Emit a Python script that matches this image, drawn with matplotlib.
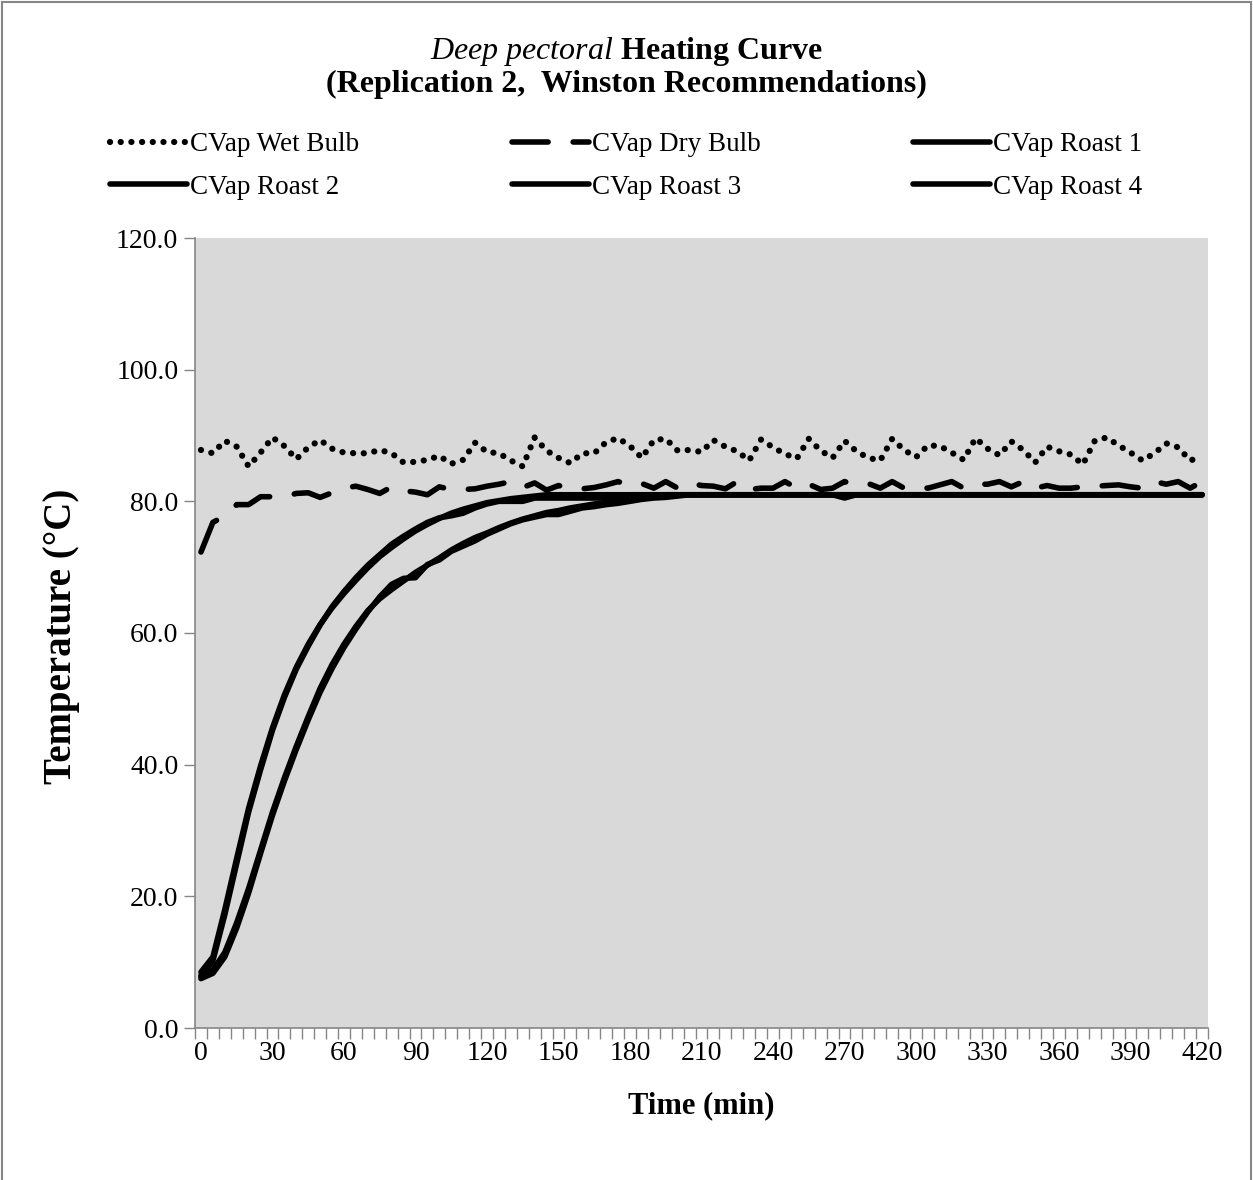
import numpy as np
import matplotlib.pyplot as plt
from matplotlib.patches import Rectangle

plt.rcParams['font.family'] = ['Liberation Serif', 'DejaVu Serif']
plt.rcParams['mathtext.fontset'] = 'custom'
plt.rcParams['mathtext.rm'] = 'Liberation Serif'
plt.rcParams['mathtext.it'] = 'Liberation Serif:italic'
plt.rcParams['mathtext.bf'] = 'Liberation Serif:bold'

# time in minutes, one reading every 5 min
minutes = np.arange(0, 425, 5)

wet_bulb = [87.8, 87.3, 89.2, 88.3, 85.3, 87.4, 89.7, 88.4, 86.4, 88.2,
            89.3, 88.0, 87.4, 87.3, 87.3, 87.8, 87.3, 85.9, 86.0, 86.3,
            86.9, 85.7, 86.3, 88.9, 87.5, 87.3, 86.2, 85.3, 89.7, 87.7,
            86.6, 85.8, 87.3, 87.3, 89.0, 89.6, 88.4, 86.6, 89.3, 89.5,
            87.7, 87.8, 87.5, 89.3, 88.3, 87.6, 86.2, 89.4, 88.2, 87.2,
            86.5, 89.5, 87.7, 86.6, 89.2, 87.6, 86.6, 86.2, 89.5, 87.8,
            86.7, 88.5, 88.4, 87.4, 86.3, 89.6, 88.0, 87.0, 89.1, 87.8,
            85.9, 88.3, 87.6, 87.1, 85.6, 89.2, 89.7, 88.5, 87.4, 86.2,
            87.3, 88.8, 88.2, 86.2, 86.8]

dry_bulb = [72.3, 76.8, 77.8, 79.5, 79.5, 80.7, 80.7, 80.7, 81.2, 81.3,
            80.6, 81.3, 82.0, 82.3, 81.8, 81.2, 82.2, 81.6, 81.4, 81.0,
            82.2, 81.8, 81.8, 81.9, 82.3, 82.6, 83.0, 82.1, 82.8, 81.7,
            82.4, 81.9, 81.9, 82.1, 82.5, 83.0, 82.4, 82.7, 82.0, 83.0,
            82.0, 82.8, 82.4, 82.3, 81.9, 83.0, 81.8, 82.0, 82.0, 83.0,
            82.0, 82.6, 81.8, 82.0, 83.0, 82.5, 82.7, 82.0, 83.0, 82.0,
            82.2, 82.0, 82.5, 83.0, 82.0, 82.6, 82.6, 83.0, 82.2, 83.0,
            82.0, 82.4, 82.0, 82.0, 82.2, 82.3, 82.4, 82.5, 82.2, 82.0,
            83.0, 82.6, 83.0, 82.0, 83.0]

roast_1 = [8.5, 10.8, 18.0, 25.8, 33.4, 39.8, 45.6, 50.6, 54.8, 58.3,
           61.3, 63.8, 66.0, 68.0, 69.9, 71.6, 73.0, 74.3, 75.5, 76.5,
           77.4, 78.2, 78.8, 79.3, 79.8, 80.1, 80.4, 80.6, 80.8, 81.0,
           81.0, 81.0, 81.0, 81.0, 81.0, 81.0, 81.0, 81.0, 81.0, 81.0,
           81.0, 81.0, 81.0, 81.0, 81.0, 81.0, 81.0, 81.0, 81.0, 81.0,
           81.0, 81.0, 81.0, 81.0, 81.0, 81.0, 81.0, 81.0, 81.0, 81.0,
           81.0, 81.0, 81.0, 81.0, 81.0, 81.0, 81.0, 81.0, 81.0, 81.0,
           81.0, 81.0, 81.0, 81.0, 81.0, 81.0, 81.0, 81.0, 81.0, 81.0,
           81.0, 81.0, 81.0, 81.0, 81.0]

roast_2 = [7.8, 10.2, 17.2, 25.0, 32.8, 39.2, 45.2, 50.2, 54.5, 58.0,
           61.2, 64.0, 66.3, 68.4, 70.3, 71.9, 73.5, 74.7, 75.8, 76.8,
           77.5, 77.8, 78.2, 79.0, 79.6, 80.0, 80.0, 80.0, 80.5, 80.5,
           80.5, 80.5, 80.5, 80.5, 80.5, 80.5, 81.0, 81.0, 81.0, 81.0,
           81.0, 81.0, 81.0, 81.0, 81.0, 81.0, 81.0, 81.0, 81.0, 81.0,
           81.0, 81.0, 81.0, 81.0, 81.0, 81.0, 81.0, 81.0, 81.0, 81.0,
           81.0, 81.0, 81.0, 81.0, 81.0, 81.0, 81.0, 81.0, 81.0, 81.0,
           81.0, 81.0, 81.0, 81.0, 81.0, 81.0, 81.0, 81.0, 81.0, 81.0,
           81.0, 81.0, 81.0, 81.0, 81.0]

roast_3 = [7.5, 8.3, 10.8, 15.2, 20.5, 26.5, 32.3, 37.5, 42.3, 46.8,
           51.0, 54.6, 57.8, 60.6, 63.2, 65.5, 67.4, 68.3, 68.4, 70.4,
           71.1, 72.4, 73.2, 74.0, 75.0, 75.8, 76.6, 77.2, 77.6, 78.0,
           78.0, 78.5, 79.0, 79.2, 79.5, 79.7, 80.0, 80.3, 80.5, 80.6,
           80.8, 81.0, 81.0, 81.0, 81.0, 81.0, 81.0, 81.0, 81.0, 81.0,
           81.0, 81.0, 81.0, 81.0, 80.5, 81.0, 81.0, 81.0, 81.0, 81.0,
           81.0, 81.0, 81.0, 81.0, 81.0, 81.0, 81.0, 81.0, 81.0, 81.0,
           81.0, 81.0, 81.0, 81.0, 81.0, 81.0, 81.0, 81.0, 81.0, 81.0,
           81.0, 81.0, 81.0, 81.0, 81.0]

roast_4 = [8.0, 8.8, 11.5, 16.0, 21.2, 27.0, 32.8, 38.0, 42.8, 47.3,
           51.6, 55.2, 58.3, 61.0, 63.4, 65.2, 66.6, 67.9, 69.2, 70.3,
           71.4, 72.6, 73.6, 74.5, 75.2, 76.0, 76.7, 77.3, 77.8, 78.3,
           78.6, 79.0, 79.3, 79.6, 79.8, 80.0, 80.2, 80.4, 80.7, 81.0,
           81.0, 81.0, 81.0, 81.0, 81.0, 81.0, 81.0, 81.0, 81.0, 81.0,
           81.0, 81.0, 81.0, 81.0, 81.0, 81.0, 81.0, 81.0, 81.0, 81.0,
           81.0, 81.0, 81.0, 81.0, 81.0, 81.0, 81.0, 81.0, 81.0, 81.0,
           81.0, 81.0, 81.0, 81.0, 81.0, 81.0, 81.0, 81.0, 81.0, 81.0,
           81.0, 81.0, 81.0, 81.0, 81.0]

W, H = 1253, 1180
fig = plt.figure(figsize=(W / 100, H / 100), dpi=100)
ax = fig.add_axes([195 / W, 1 - 1028 / H, (1208 - 195) / W, (1028 - 238) / H])
ax.set_facecolor('#D9D9D9')

lw = 4
l_wet, = ax.plot(minutes, wet_bulb, color='black', lw=4.5,
                 linestyle=(0, (0.01, 1.7)), dash_capstyle='round')
l_dry, = ax.plot(minutes, dry_bulb, color='black', lw=lw,
                 linestyle=(0, (6.5, 4.5)), dash_capstyle='round')
roasts = []
for vals in [roast_1, roast_2, roast_3, roast_4]:
    ln, = ax.plot(minutes, vals, color='black', lw=lw,
                  solid_capstyle='round', solid_joinstyle='round')
    roasts.append(ln)

ax.set_xlim(-2.5, 422.5)
ax.set_ylim(0, 120)
for s in ['top', 'right']:
    ax.spines[s].set_visible(False)
for s in ['left', 'bottom']:
    ax.spines[s].set_color('#868686')
    ax.spines[s].set_linewidth(1.2)

ax.set_xticks(np.arange(0, 421, 30))
ax.set_xticks(np.arange(-2.5, 423, 5), minor=True)
ax.tick_params(axis='x', which='major', length=0, pad=9, labelsize=20)
ax.tick_params(axis='x', which='minor', length=8, color='#868686', width=1)
yt = np.arange(0, 121, 20)
ax.set_yticks(yt)
ax.set_yticklabels([f'{v:.1f}' for v in yt])
ax.tick_params(axis='y', length=8, color='#868686', width=1, pad=4, labelsize=20)

fig.text(0.5, 1 - 52 / H, r'$\it{Deep\ pectoral}$ Heating Curve',
         ha='center', va='center', fontsize=23, fontweight='bold')
fig.text(0.5, 1 - 84 / H, '(Replication 2,  Winston Recommendations)',
         ha='center', va='center', fontsize=23, fontweight='bold')
fig.text(62 / W, 1 - 636 / H, 'Temperature (°C)', rotation=90,
         ha='center', va='center', fontsize=28, fontweight='bold')
fig.text(701 / W, 1 - 1106 / H, 'Time (min)',
         ha='center', va='center', fontsize=22, fontweight='bold')

# legend: Excel fills rows, matplotlib fills columns
labels = ['CVap Wet Bulb', 'CVap Dry Bulb', 'CVap Roast 1',
          'CVap Roast 2', 'CVap Roast 3', 'CVap Roast 4']
handles = [l_wet, l_dry] + roasts
order = [0, 3, 1, 4, 2, 5]
fig.legend([handles[i] for i in order], [labels[i] for i in order],
           ncol=3, loc='upper left', mode='expand', frameon=False,
           bbox_to_anchor=(110 / W, 1 - 144 / H, (1142 - 110) / W, 0.01),
           borderaxespad=0, borderpad=0, fontsize=19.5,
           handlelength=2.85, handletextpad=0.1, labelspacing=0.65)

fig.patches.append(Rectangle((2 / W, -0.01), (W - 4) / W, 1 - 2 / H + 0.01,
                             transform=fig.transFigure, fill=False,
                             edgecolor='#868686', lw=1.5))

fig.savefig('out.png', dpi=100)
